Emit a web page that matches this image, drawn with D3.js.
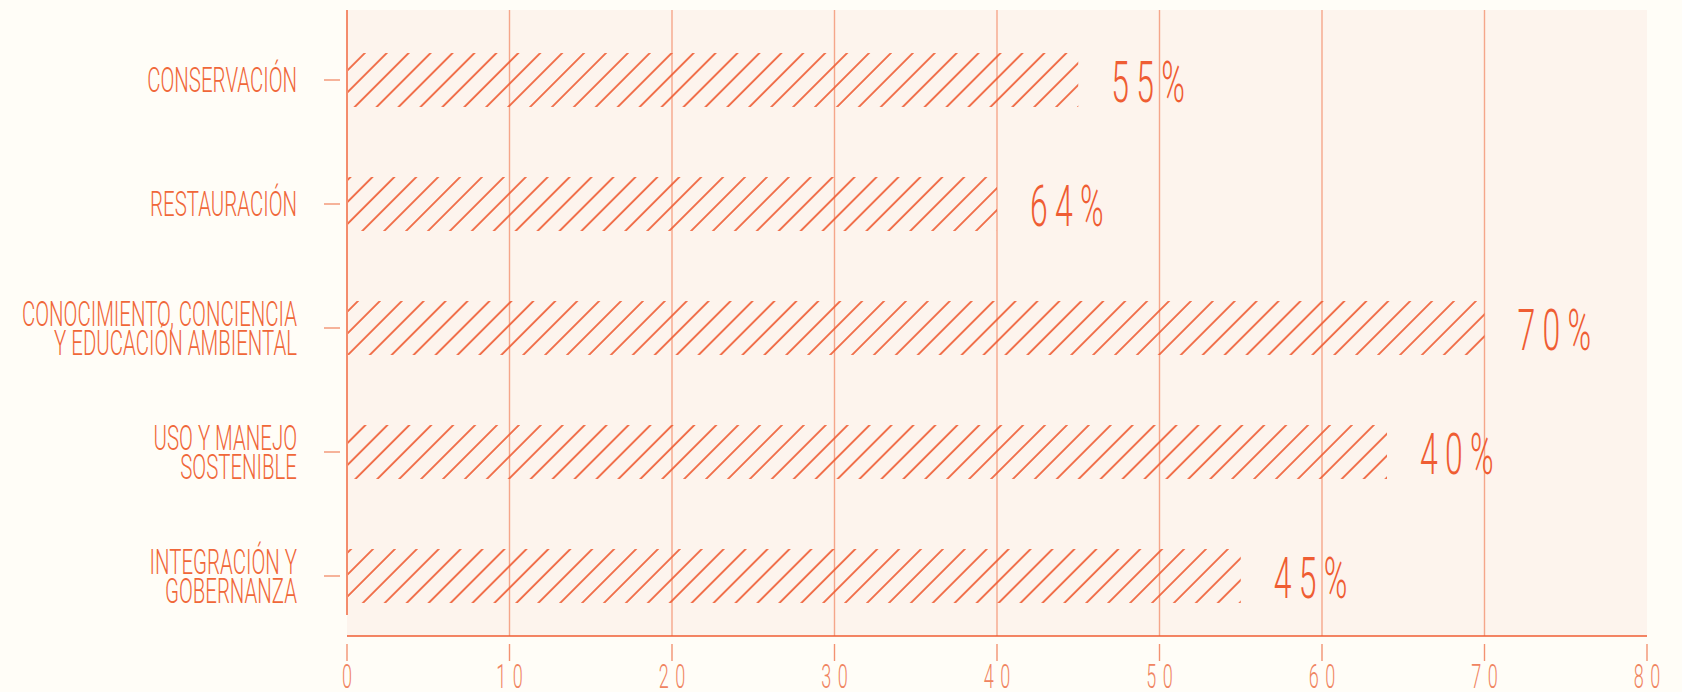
<!DOCTYPE html>
<html lang="es">
<head>
<meta charset="UTF-8">
<title>Líneas de acción</title>
<style>
    html, body { margin: 0; padding: 0; background: #fffdf7; overflow: hidden; }
    svg { display: block; }
    text { font-family: Roboto, "Noto Sans", sans-serif; font-weight: 300; }
</style>
</head>
<body>
<div id="chart"></div>
<script src="https://d3js.org/d3.v7.min.js"></script>
<script>
// categories (top to bottom), lines split for the labels
const categories = [
    ["CONSERVACIÓN"],
    ["RESTAURACIÓN"],
    ["CONOCIMIENTO, CONCIENCIA", "Y EDUCACIÓN AMBIENTAL"],
    ["USO Y MANEJO", "SOSTENIBLE"],
    ["INTEGRACIÓN Y", "GOBERNANZA"]
];
// bar lengths as drawn
const values = [45, 40, 70, 64, 55];
// the printed labels next to each bar (as they appear on the original)
const valueLabels = ["55%", "64%", "70%", "40%", "45%"];
const xTicks = [0, 10, 20, 30, 40, 50, 60, 70, 80];

const W = 1682, H = 692;
const plotL = 347, plotR = 1647, plotT = 10, plotB = 636;

const orange = "#ef5d33";
const labelCol = "#f06739";
const light = "#f5a68a";
const tickCol = "#f39272";

const svg = d3.select("#chart").append("svg")
    .attr("width", W).attr("height", H);

const defs = svg.append("defs");
defs.append("pattern")
    .attr("id", "hatch")
    .attr("patternUnits", "userSpaceOnUse")
    .attr("width", 15.5).attr("height", 15.5)
    .attr("patternTransform", "rotate(45)")
    .append("line")
    .attr("x1", 1).attr("y1", 0).attr("x2", 1).attr("y2", 15.5)
    .attr("stroke", orange).attr("stroke-width", 1.7);
defs.append("clipPath").attr("id", "labelClip")
    .append("rect").attr("x", 20).attr("y", 0).attr("width", W).attr("height", H);

const x = d3.scaleLinear().domain([0, 80]).range([plotL, plotR]);
const y = d3.scaleBand()
    .domain(d3.range(categories.length))
    .range([plotT, 646])
    .paddingInner(0.565)
    .paddingOuter(0.347);
const cy = i => y(i) + y.bandwidth() / 2;

// plot background
svg.append("rect")
    .attr("x", plotL).attr("y", plotT)
    .attr("width", plotR - plotL).attr("height", plotB - plotT)
    .attr("fill", "#fdf4ed");

// gridlines
svg.append("g").selectAll("line")
    .data(xTicks.filter(t => t > 0 && t < 80))
    .join("line")
    .attr("x1", d => x(d)).attr("x2", d => x(d))
    .attr("y1", plotT).attr("y2", plotB)
    .attr("stroke", light).attr("stroke-width", 1.4);

// left line
svg.append("line")
    .attr("x1", plotL).attr("x2", plotL)
    .attr("y1", plotT).attr("y2", 615)
    .attr("stroke", orange).attr("stroke-width", 1.4);

// bars
svg.append("g").selectAll("rect")
    .data(values)
    .join("rect")
    .attr("x", x(0) + 1)
    .attr("y", (d, i) => y(i))
    .attr("width", d => x(d) - x(0) - 1)
    .attr("height", y.bandwidth())
    .attr("fill", "url(#hatch)");

// value labels
svg.append("g").selectAll("g")
    .data(values)
    .join("g")
    .attr("transform", (d, i) => `translate(${x(d) + 33},${cy(i) + 22}) scale(0.56,1)`)
    .append("text")
    .attr("fill", orange)
    .attr("font-size", 57)
    .attr("letter-spacing", 13)
    .text((d, i) => valueLabels[i]);

// y axis ticks
svg.append("g").selectAll("line")
    .data(values)
    .join("line")
    .attr("x1", 324).attr("x2", 340)
    .attr("y1", (d, i) => cy(i))
    .attr("y2", (d, i) => cy(i))
    .attr("stroke", tickCol).attr("stroke-width", 1.4);

// category labels
const lineH = 29, capH = 25;
const cat = svg.append("g")
    .attr("clip-path", "url(#labelClip)")
    .selectAll("g")
    .data(categories)
    .join("g")
    .attr("transform", (d, i) => {
        const firstBase = cy(i) - (d.length - 1) * lineH / 2 + capH / 2;
        return `translate(297,${firstBase}) scale(0.584,1)`;
    });
cat.selectAll("text")
    .data(d => d)
    .join("text")
    .attr("y", (d, i) => i * lineH)
    .attr("text-anchor", "end")
    .attr("fill", labelCol)
    .attr("font-size", 35)
    .text(d => d);

// x axis
svg.append("line")
    .attr("x1", plotL).attr("x2", plotR)
    .attr("y1", plotB).attr("y2", plotB)
    .attr("stroke", orange).attr("stroke-width", 1.6);

const xt = svg.append("g").selectAll("g")
    .data(xTicks)
    .join("g")
    .attr("transform", d => `translate(${x(d)},0)`);
xt.append("line")
    .attr("y1", 644).attr("y2", 661)
    .attr("stroke", tickCol).attr("stroke-width", 1.4);
xt.append("g")
    .attr("transform", `translate(${12 * 0.53 / 2},688) scale(0.53,1)`)
    .append("text")
    .attr("text-anchor", "middle")
    .attr("fill", "#f08460")
    .attr("font-size", 34)
    .attr("letter-spacing", 12)
    .text(d => d);
</script>
</body>
</html>
